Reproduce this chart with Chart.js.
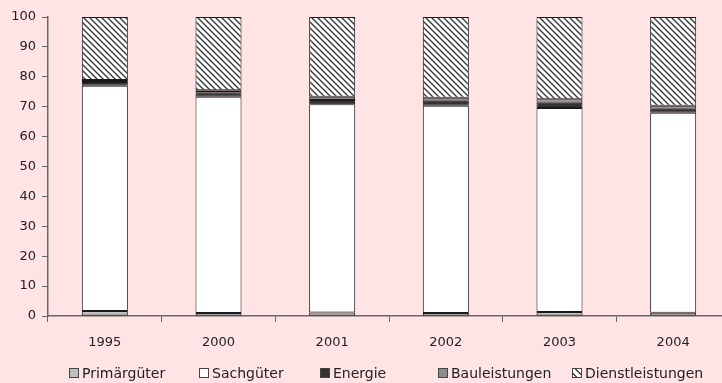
<!DOCTYPE html>
<html>
<head>
<meta charset="utf-8">
<script src="https://cdn.jsdelivr.net/npm/chart.js@4/dist/chart.umd.min.js"></script>
<style>
  html, body { margin: 0; padding: 0; background: #ffe4e6; overflow: hidden; }
  #wrap { position: relative; width: 722px; height: 383px; overflow: hidden; }
  #chart { position: absolute; left: 0; top: 0; }
  .lg { position: absolute; top: 364px; height: 18px; font: 14px "DejaVu Sans", sans-serif; color: #222; white-space: nowrap; }
  .lg .box { position: absolute; top: 4px; width: 8px; height: 8px; border: 1px solid #444; }
  .lg .txt { position: absolute; top: 0; line-height: 18px; }
</style>
</head>
<body>
<div id="wrap">
  <canvas id="chart" width="730" height="383"></canvas>
  <div id="legend"></div>
</div>
<script>
// Anteile in Prozent je Jahr
const years = ['1995', '2000', '2001', '2002', '2003', '2004'];
const primaergueter   = [1.7, 1.0, 1.2, 1.0, 1.3, 1.1];
const sachgueter      = [75.3, 72.3, 69.6, 69.3, 68.3, 66.9];
const energie         = [1.3, 1.5, 1.4, 1.7, 1.7, 1.3];
const bauleistungen   = [0.6, 0.7, 1.1, 1.0, 1.2, 1.0];
const dienstleistungen = [21.1, 24.5, 26.7, 27.0, 27.5, 29.7];
const yTicks = [0, 10, 20, 30, 40, 50, 60, 70, 80, 90, 100];

// diagonal hatch for Dienstleistungen
function makeHatch() {
  const c = document.createElement('canvas');
  c.width = 6; c.height = 6;
  const g = c.getContext('2d');
  g.fillStyle = '#ffffff';
  g.fillRect(0, 0, 6, 6);
  g.strokeStyle = '#3a3a3a';
  g.lineWidth = 1.4;
  for (let k = -6; k <= 6; k += 6) {
    g.beginPath();
    g.moveTo(k - 1, -1);
    g.lineTo(k + 7, 7);
    g.stroke();
  }
  return g.createPattern(c, 'repeat');
}
const hatch = makeHatch();

const series = [
  { label: 'Primärgüter', data: primaergueter, color: '#c0c0c0', css: '#c0c0c0' },
  { label: 'Sachgüter', data: sachgueter, color: '#ffffff', css: '#ffffff' },
  { label: 'Energie', data: energie, color: '#333333', css: '#333333' },
  { label: 'Bauleistungen', data: bauleistungen, color: '#8c8c8c', css: '#8c8c8c' },
  { label: 'Dienstleistungen', data: dienstleistungen, color: hatch,
    css: 'repeating-linear-gradient(45deg, #fff 0px, #fff 2px, #444 2px, #444 3.4px, #fff 3.4px, #fff 5px)' }
];

const axisColor = '#666666';
const font = { family: '"DejaVu Sans", sans-serif', size: 13 };

new Chart(document.getElementById('chart'), {
  type: 'bar',
  data: {
    labels: years,
    datasets: series.map(s => ({
      label: s.label,
      data: s.data,
      backgroundColor: s.color,
      borderColor: '#1a1a1a',
      borderWidth: 1,
      borderSkipped: false,
      categoryPercentage: 1,
      barPercentage: 0.405
    }))
  },
  options: {
    responsive: false,
    animation: false,
    layout: { padding: { top: 17, right: 0, bottom: 37, left: 0 } },
    plugins: { legend: { display: false }, tooltip: { enabled: false } },
    scales: {
      x: {
        stacked: true,
        grid: { offset: true, drawOnChartArea: false, drawTicks: true, tickLength: 6, color: axisColor },
        border: { color: axisColor, width: 1.5 },
        ticks: { color: '#222', font: font, padding: 13, maxRotation: 0 },
        afterFit: s => { s.height = 30; }
      },
      y: {
        stacked: true,
        min: 0, max: 100,
        afterBuildTicks: s => { s.ticks = yTicks.map(v => ({ value: v })); },
        grid: { drawOnChartArea: false, drawTicks: true, tickLength: 6, color: axisColor },
        border: { color: axisColor, width: 1.5 },
        ticks: { color: '#222', font: font, padding: 6 },
        afterFit: s => { s.width = 48; }
      }
    }
  }
});

// legend row below the axis
const legendPos = [69, 199, 320, 438, 572];
const legend = document.getElementById('legend');
series.forEach((s, i) => {
  const item = document.createElement('div');
  item.className = 'lg';
  item.style.left = legendPos[i] + 'px';
  const box = document.createElement('span');
  box.className = 'box';
  box.style.left = '0px';
  box.style.background = s.css;
  const txt = document.createElement('span');
  txt.className = 'txt';
  txt.style.left = '13px';
  txt.textContent = s.label;
  item.appendChild(box);
  item.appendChild(txt);
  legend.appendChild(item);
});
</script>
</body>
</html>
